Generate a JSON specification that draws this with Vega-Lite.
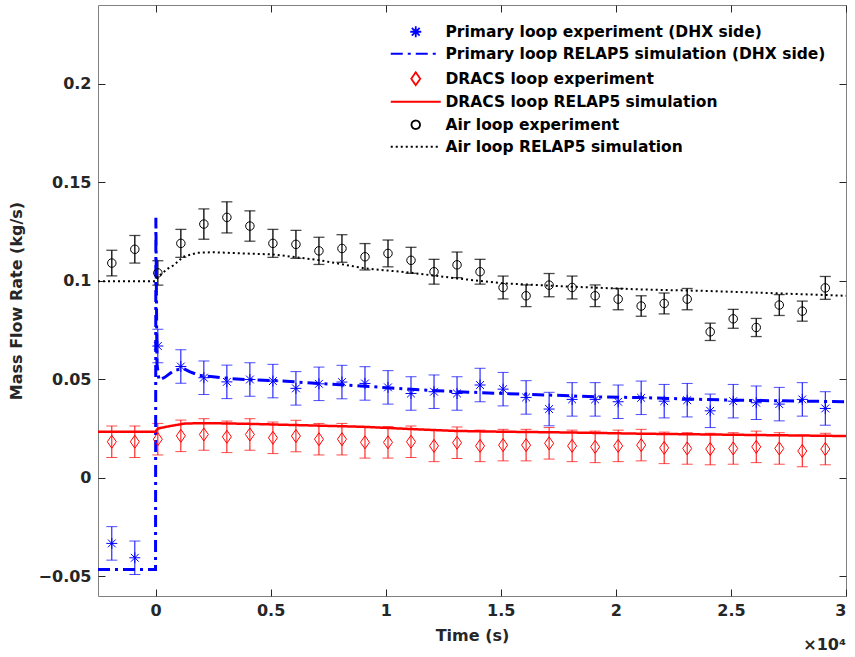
{
  "$schema": "https://vega.github.io/schema/vega-lite/v6.json",
  "width": 748,
  "height": 591,
  "autosize": "none",
  "padding": {"left": 98, "top": 5, "right": 9, "bottom": 61},
  "background": "white",
  "config": {
    "font": "DejaVu Sans",
    "view": {"stroke": "#808080", "strokeWidth": 1},
    "axis": {"domain": false, "grid": false, "tickColor": "#262626", "tickSize": 7, "tickWidth": 1, "offset": -7, "labelFont": "DejaVu Sans", "labelFontSize": 16, "labelFontWeight": "bold", "labelColor": "#262626", "titleFont": "DejaVu Sans", "titleFontSize": 16, "titleFontWeight": "bold", "titleColor": "#262626"}
  },
  "datasets": {
    "exp": [
      {"series": "Primary loop experiment (DHX side)", "t": -1900, "v": -0.0333, "lo": -0.0418, "hi": -0.0248},
      {"series": "Primary loop experiment (DHX side)", "t": -900, "v": -0.0406, "lo": -0.0491, "hi": -0.0321},
      {"series": "Primary loop experiment (DHX side)", "t": 100, "v": 0.0669, "lo": 0.0584, "hi": 0.0754},
      {"series": "Primary loop experiment (DHX side)", "t": 1100, "v": 0.0565, "lo": 0.048, "hi": 0.065},
      {"series": "Primary loop experiment (DHX side)", "t": 2100, "v": 0.0508, "lo": 0.0423, "hi": 0.0593},
      {"series": "Primary loop experiment (DHX side)", "t": 3100, "v": 0.0487, "lo": 0.0402, "hi": 0.0572},
      {"series": "Primary loop experiment (DHX side)", "t": 4100, "v": 0.0499, "lo": 0.0414, "hi": 0.0584},
      {"series": "Primary loop experiment (DHX side)", "t": 5100, "v": 0.0491, "lo": 0.0406, "hi": 0.0576},
      {"series": "Primary loop experiment (DHX side)", "t": 6100, "v": 0.0454, "lo": 0.0369, "hi": 0.0539},
      {"series": "Primary loop experiment (DHX side)", "t": 7100, "v": 0.0477, "lo": 0.0392, "hi": 0.0562},
      {"series": "Primary loop experiment (DHX side)", "t": 8100, "v": 0.0486, "lo": 0.0401, "hi": 0.0571},
      {"series": "Primary loop experiment (DHX side)", "t": 9100, "v": 0.0479, "lo": 0.0394, "hi": 0.0564},
      {"series": "Primary loop experiment (DHX side)", "t": 10100, "v": 0.0459, "lo": 0.0374, "hi": 0.0544},
      {"series": "Primary loop experiment (DHX side)", "t": 11100, "v": 0.0428, "lo": 0.0343, "hi": 0.0513},
      {"series": "Primary loop experiment (DHX side)", "t": 12100, "v": 0.0437, "lo": 0.0352, "hi": 0.0522},
      {"series": "Primary loop experiment (DHX side)", "t": 13100, "v": 0.0428, "lo": 0.0343, "hi": 0.0513},
      {"series": "Primary loop experiment (DHX side)", "t": 14100, "v": 0.0471, "lo": 0.0386, "hi": 0.0556},
      {"series": "Primary loop experiment (DHX side)", "t": 15100, "v": 0.045, "lo": 0.0365, "hi": 0.0535},
      {"series": "Primary loop experiment (DHX side)", "t": 16100, "v": 0.0408, "lo": 0.0323, "hi": 0.0493},
      {"series": "Primary loop experiment (DHX side)", "t": 17100, "v": 0.0349, "lo": 0.0264, "hi": 0.0434},
      {"series": "Primary loop experiment (DHX side)", "t": 18100, "v": 0.0398, "lo": 0.0313, "hi": 0.0483},
      {"series": "Primary loop experiment (DHX side)", "t": 19100, "v": 0.0398, "lo": 0.0313, "hi": 0.0483},
      {"series": "Primary loop experiment (DHX side)", "t": 20100, "v": 0.0386, "lo": 0.0301, "hi": 0.0471},
      {"series": "Primary loop experiment (DHX side)", "t": 21100, "v": 0.0406, "lo": 0.0321, "hi": 0.0491},
      {"series": "Primary loop experiment (DHX side)", "t": 22100, "v": 0.0389, "lo": 0.0304, "hi": 0.0474},
      {"series": "Primary loop experiment (DHX side)", "t": 23100, "v": 0.0394, "lo": 0.0309, "hi": 0.0479},
      {"series": "Primary loop experiment (DHX side)", "t": 24100, "v": 0.034, "lo": 0.0255, "hi": 0.0425},
      {"series": "Primary loop experiment (DHX side)", "t": 25100, "v": 0.0389, "lo": 0.0304, "hi": 0.0474},
      {"series": "Primary loop experiment (DHX side)", "t": 26100, "v": 0.0381, "lo": 0.0296, "hi": 0.0466},
      {"series": "Primary loop experiment (DHX side)", "t": 27100, "v": 0.0374, "lo": 0.0289, "hi": 0.0459},
      {"series": "Primary loop experiment (DHX side)", "t": 28100, "v": 0.0398, "lo": 0.0313, "hi": 0.0483},
      {"series": "Primary loop experiment (DHX side)", "t": 29100, "v": 0.0352, "lo": 0.0267, "hi": 0.0437},
      {"series": "DRACS loop experiment", "t": -1900, "v": 0.0183, "lo": 0.0103, "hi": 0.0263},
      {"series": "DRACS loop experiment", "t": -900, "v": 0.0183, "lo": 0.0103, "hi": 0.0263},
      {"series": "DRACS loop experiment", "t": 100, "v": 0.0196, "lo": 0.0116, "hi": 0.0276},
      {"series": "DRACS loop experiment", "t": 1100, "v": 0.0213, "lo": 0.0133, "hi": 0.0293},
      {"series": "DRACS loop experiment", "t": 2100, "v": 0.022, "lo": 0.014, "hi": 0.03},
      {"series": "DRACS loop experiment", "t": 3100, "v": 0.0208, "lo": 0.0128, "hi": 0.0288},
      {"series": "DRACS loop experiment", "t": 4100, "v": 0.022, "lo": 0.014, "hi": 0.03},
      {"series": "DRACS loop experiment", "t": 5100, "v": 0.0203, "lo": 0.0123, "hi": 0.0283},
      {"series": "DRACS loop experiment", "t": 6100, "v": 0.0212, "lo": 0.0132, "hi": 0.0292},
      {"series": "DRACS loop experiment", "t": 7100, "v": 0.0196, "lo": 0.0116, "hi": 0.0276},
      {"series": "DRACS loop experiment", "t": 8100, "v": 0.0196, "lo": 0.0116, "hi": 0.0276},
      {"series": "DRACS loop experiment", "t": 9100, "v": 0.018, "lo": 0.01, "hi": 0.026},
      {"series": "DRACS loop experiment", "t": 10100, "v": 0.018, "lo": 0.01, "hi": 0.026},
      {"series": "DRACS loop experiment", "t": 11100, "v": 0.0183, "lo": 0.0103, "hi": 0.0263},
      {"series": "DRACS loop experiment", "t": 12100, "v": 0.0162, "lo": 0.0082, "hi": 0.0242},
      {"series": "DRACS loop experiment", "t": 13100, "v": 0.0178, "lo": 0.0098, "hi": 0.0258},
      {"series": "DRACS loop experiment", "t": 14100, "v": 0.0162, "lo": 0.0082, "hi": 0.0242},
      {"series": "DRACS loop experiment", "t": 15100, "v": 0.0166, "lo": 0.0086, "hi": 0.0246},
      {"series": "DRACS loop experiment", "t": 16100, "v": 0.0166, "lo": 0.0086, "hi": 0.0246},
      {"series": "DRACS loop experiment", "t": 17100, "v": 0.0175, "lo": 0.0095, "hi": 0.0255},
      {"series": "DRACS loop experiment", "t": 18100, "v": 0.0162, "lo": 0.0082, "hi": 0.0242},
      {"series": "DRACS loop experiment", "t": 19100, "v": 0.0157, "lo": 0.0077, "hi": 0.0237},
      {"series": "DRACS loop experiment", "t": 20100, "v": 0.0162, "lo": 0.0082, "hi": 0.0242},
      {"series": "DRACS loop experiment", "t": 21100, "v": 0.0166, "lo": 0.0086, "hi": 0.0246},
      {"series": "DRACS loop experiment", "t": 22100, "v": 0.0152, "lo": 0.0072, "hi": 0.0232},
      {"series": "DRACS loop experiment", "t": 23100, "v": 0.0149, "lo": 0.0069, "hi": 0.0229},
      {"series": "DRACS loop experiment", "t": 24100, "v": 0.0146, "lo": 0.0066, "hi": 0.0226},
      {"series": "DRACS loop experiment", "t": 25100, "v": 0.0149, "lo": 0.0069, "hi": 0.0229},
      {"series": "DRACS loop experiment", "t": 26100, "v": 0.0157, "lo": 0.0077, "hi": 0.0237},
      {"series": "DRACS loop experiment", "t": 27100, "v": 0.0149, "lo": 0.0069, "hi": 0.0229},
      {"series": "DRACS loop experiment", "t": 28100, "v": 0.0136, "lo": 0.0056, "hi": 0.0216},
      {"series": "DRACS loop experiment", "t": 29100, "v": 0.0146, "lo": 0.0066, "hi": 0.0226},
      {"series": "Air loop experiment", "t": -1900, "v": 0.109, "lo": 0.1025, "hi": 0.1155},
      {"series": "Air loop experiment", "t": -900, "v": 0.116, "lo": 0.109, "hi": 0.123},
      {"series": "Air loop experiment", "t": 100, "v": 0.104, "lo": 0.0978, "hi": 0.1102},
      {"series": "Air loop experiment", "t": 1100, "v": 0.119, "lo": 0.1119, "hi": 0.1261},
      {"series": "Air loop experiment", "t": 2100, "v": 0.1288, "lo": 0.1211, "hi": 0.1365},
      {"series": "Air loop experiment", "t": 3100, "v": 0.1322, "lo": 0.1243, "hi": 0.1401},
      {"series": "Air loop experiment", "t": 4100, "v": 0.1278, "lo": 0.1201, "hi": 0.1355},
      {"series": "Air loop experiment", "t": 5100, "v": 0.119, "lo": 0.1119, "hi": 0.1261},
      {"series": "Air loop experiment", "t": 6100, "v": 0.1185, "lo": 0.1114, "hi": 0.1256},
      {"series": "Air loop experiment", "t": 7100, "v": 0.1152, "lo": 0.1083, "hi": 0.1221},
      {"series": "Air loop experiment", "t": 8100, "v": 0.1164, "lo": 0.1094, "hi": 0.1234},
      {"series": "Air loop experiment", "t": 9100, "v": 0.1122, "lo": 0.1055, "hi": 0.1189},
      {"series": "Air loop experiment", "t": 10100, "v": 0.1139, "lo": 0.1071, "hi": 0.1207},
      {"series": "Air loop experiment", "t": 11100, "v": 0.1104, "lo": 0.1038, "hi": 0.117},
      {"series": "Air loop experiment", "t": 12100, "v": 0.1046, "lo": 0.0983, "hi": 0.1109},
      {"series": "Air loop experiment", "t": 13100, "v": 0.1081, "lo": 0.1016, "hi": 0.1146},
      {"series": "Air loop experiment", "t": 14100, "v": 0.1046, "lo": 0.0983, "hi": 0.1109},
      {"series": "Air loop experiment", "t": 15100, "v": 0.0966, "lo": 0.0908, "hi": 0.1024},
      {"series": "Air loop experiment", "t": 16100, "v": 0.0924, "lo": 0.0869, "hi": 0.0979},
      {"series": "Air loop experiment", "t": 17100, "v": 0.0978, "lo": 0.0919, "hi": 0.1037},
      {"series": "Air loop experiment", "t": 18100, "v": 0.0966, "lo": 0.0908, "hi": 0.1024},
      {"series": "Air loop experiment", "t": 19100, "v": 0.0924, "lo": 0.0869, "hi": 0.0979},
      {"series": "Air loop experiment", "t": 20100, "v": 0.0907, "lo": 0.0853, "hi": 0.0961},
      {"series": "Air loop experiment", "t": 21100, "v": 0.0872, "lo": 0.082, "hi": 0.0924},
      {"series": "Air loop experiment", "t": 22100, "v": 0.0885, "lo": 0.0832, "hi": 0.0938},
      {"series": "Air loop experiment", "t": 23100, "v": 0.0907, "lo": 0.0853, "hi": 0.0961},
      {"series": "Air loop experiment", "t": 24100, "v": 0.0741, "lo": 0.0697, "hi": 0.0785},
      {"series": "Air loop experiment", "t": 25100, "v": 0.0807, "lo": 0.0759, "hi": 0.0855},
      {"series": "Air loop experiment", "t": 26100, "v": 0.0763, "lo": 0.0717, "hi": 0.0809},
      {"series": "Air loop experiment", "t": 27100, "v": 0.0877, "lo": 0.0824, "hi": 0.093},
      {"series": "Air loop experiment", "t": 28100, "v": 0.0846, "lo": 0.0795, "hi": 0.0897},
      {"series": "Air loop experiment", "t": 29100, "v": 0.0964, "lo": 0.0906, "hi": 0.1022}
    ],
    "sim": [
      {"series": "Primary loop RELAP5 simulation (DHX side)", "t": -2500, "v": -0.0465},
      {"series": "Primary loop RELAP5 simulation (DHX side)", "t": 0, "v": -0.0465},
      {"series": "Primary loop RELAP5 simulation (DHX side)", "t": 15, "v": 0.132},
      {"series": "Primary loop RELAP5 simulation (DHX side)", "t": 60, "v": 0.058},
      {"series": "Primary loop RELAP5 simulation (DHX side)", "t": 150, "v": 0.0496},
      {"series": "Primary loop RELAP5 simulation (DHX side)", "t": 400, "v": 0.051},
      {"series": "Primary loop RELAP5 simulation (DHX side)", "t": 800, "v": 0.0545},
      {"series": "Primary loop RELAP5 simulation (DHX side)", "t": 1200, "v": 0.0555},
      {"series": "Primary loop RELAP5 simulation (DHX side)", "t": 1500, "v": 0.0538},
      {"series": "Primary loop RELAP5 simulation (DHX side)", "t": 1900, "v": 0.052},
      {"series": "Primary loop RELAP5 simulation (DHX side)", "t": 2500, "v": 0.0513},
      {"series": "Primary loop RELAP5 simulation (DHX side)", "t": 3100, "v": 0.0505},
      {"series": "Primary loop RELAP5 simulation (DHX side)", "t": 4000, "v": 0.0498},
      {"series": "Primary loop RELAP5 simulation (DHX side)", "t": 5100, "v": 0.0494},
      {"series": "Primary loop RELAP5 simulation (DHX side)", "t": 7100, "v": 0.0479},
      {"series": "Primary loop RELAP5 simulation (DHX side)", "t": 9100, "v": 0.0465},
      {"series": "Primary loop RELAP5 simulation (DHX side)", "t": 11100, "v": 0.0449},
      {"series": "Primary loop RELAP5 simulation (DHX side)", "t": 13100, "v": 0.0437},
      {"series": "Primary loop RELAP5 simulation (DHX side)", "t": 15100, "v": 0.0428},
      {"series": "Primary loop RELAP5 simulation (DHX side)", "t": 17100, "v": 0.042},
      {"series": "Primary loop RELAP5 simulation (DHX side)", "t": 19100, "v": 0.0411},
      {"series": "Primary loop RELAP5 simulation (DHX side)", "t": 21100, "v": 0.0407},
      {"series": "Primary loop RELAP5 simulation (DHX side)", "t": 23100, "v": 0.04},
      {"series": "Primary loop RELAP5 simulation (DHX side)", "t": 25100, "v": 0.0394},
      {"series": "Primary loop RELAP5 simulation (DHX side)", "t": 27100, "v": 0.0391},
      {"series": "Primary loop RELAP5 simulation (DHX side)", "t": 30000, "v": 0.0386},
      {"series": "DRACS loop RELAP5 simulation", "t": -2500, "v": 0.0234},
      {"series": "DRACS loop RELAP5 simulation", "t": 0, "v": 0.0234},
      {"series": "DRACS loop RELAP5 simulation", "t": 100, "v": 0.025},
      {"series": "DRACS loop RELAP5 simulation", "t": 600, "v": 0.0262},
      {"series": "DRACS loop RELAP5 simulation", "t": 1300, "v": 0.0276},
      {"series": "DRACS loop RELAP5 simulation", "t": 2500, "v": 0.0277},
      {"series": "DRACS loop RELAP5 simulation", "t": 4000, "v": 0.0274},
      {"series": "DRACS loop RELAP5 simulation", "t": 6000, "v": 0.0268},
      {"series": "DRACS loop RELAP5 simulation", "t": 9000, "v": 0.0259},
      {"series": "DRACS loop RELAP5 simulation", "t": 11000, "v": 0.0248},
      {"series": "DRACS loop RELAP5 simulation", "t": 13000, "v": 0.0238},
      {"series": "DRACS loop RELAP5 simulation", "t": 15000, "v": 0.0234},
      {"series": "DRACS loop RELAP5 simulation", "t": 18000, "v": 0.023},
      {"series": "DRACS loop RELAP5 simulation", "t": 21000, "v": 0.0224},
      {"series": "DRACS loop RELAP5 simulation", "t": 24000, "v": 0.022},
      {"series": "DRACS loop RELAP5 simulation", "t": 27000, "v": 0.0216},
      {"series": "DRACS loop RELAP5 simulation", "t": 30000, "v": 0.0212},
      {"series": "Air loop RELAP5 simulation", "t": -2500, "v": 0.0998},
      {"series": "Air loop RELAP5 simulation", "t": 0, "v": 0.0998},
      {"series": "Air loop RELAP5 simulation", "t": 130, "v": 0.1023},
      {"series": "Air loop RELAP5 simulation", "t": 550, "v": 0.1063},
      {"series": "Air loop RELAP5 simulation", "t": 800, "v": 0.108},
      {"series": "Air loop RELAP5 simulation", "t": 1200, "v": 0.1122},
      {"series": "Air loop RELAP5 simulation", "t": 1800, "v": 0.1142},
      {"series": "Air loop RELAP5 simulation", "t": 2500, "v": 0.1145},
      {"series": "Air loop RELAP5 simulation", "t": 4000, "v": 0.1138},
      {"series": "Air loop RELAP5 simulation", "t": 5100, "v": 0.1134},
      {"series": "Air loop RELAP5 simulation", "t": 7100, "v": 0.1105},
      {"series": "Air loop RELAP5 simulation", "t": 9100, "v": 0.1063},
      {"series": "Air loop RELAP5 simulation", "t": 11100, "v": 0.1041},
      {"series": "Air loop RELAP5 simulation", "t": 13100, "v": 0.1012},
      {"series": "Air loop RELAP5 simulation", "t": 15100, "v": 0.0987},
      {"series": "Air loop RELAP5 simulation", "t": 18100, "v": 0.097},
      {"series": "Air loop RELAP5 simulation", "t": 21100, "v": 0.0956},
      {"series": "Air loop RELAP5 simulation", "t": 24100, "v": 0.0948},
      {"series": "Air loop RELAP5 simulation", "t": 27100, "v": 0.0936},
      {"series": "Air loop RELAP5 simulation", "t": 30000, "v": 0.0924}
    ],
    "note": [
      {"t": 30000, "v": -0.06, "label": "×10⁴"}
    ]
  },
  "resolve": {"axis": {"x": "independent", "y": "independent"}},
  "layer": [
    {
      "data": {"name": "exp"},
      "transform": [{"filter": "datum.series == 'Primary loop experiment (DHX side)'"}],
      "mark": {"type": "errorbar", "color": "#0000ff", "thickness": 1, "ticks": {"size": 11, "thickness": 1, "color": "#0000ff"}},
      "encoding": {
        "x": {"field": "t", "type": "quantitative", "scale": {"domain": [-2500, 30000], "nice": false, "zero": false}, "axis": {"orient": "bottom", "values": [0, 5000, 10000, 15000, 20000, 25000, 30000], "labelExpr": "'' + datum.value / 10000", "labelPadding": 6, "title": "Time (s)", "titlePadding": 9}},
        "y": {"field": "lo", "type": "quantitative", "scale": {"domain": [-0.06, 0.24], "nice": false, "zero": false}, "axis": {"orient": "left", "values": [-0.05, 0, 0.05, 0.1, 0.15, 0.2], "format": ".2~f", "labelPadding": 7, "title": "Mass Flow Rate (kg/s)", "titlePadding": 14}},
        "y2": {"field": "hi"}
      }
    },
    {
      "data": {"name": "exp"},
      "transform": [{"filter": "datum.series == 'DRACS loop experiment'"}],
      "mark": {"type": "errorbar", "color": "#ff0000", "thickness": 1, "ticks": {"size": 11, "thickness": 1, "color": "#ff0000"}},
      "encoding": {
        "x": {"field": "t", "type": "quantitative", "axis": null},
        "y": {"field": "lo", "type": "quantitative", "axis": null},
        "y2": {"field": "hi"}
      }
    },
    {
      "data": {"name": "exp"},
      "transform": [{"filter": "datum.series == 'Air loop experiment'"}],
      "mark": {"type": "errorbar", "color": "#000000", "thickness": 1.3, "ticks": {"size": 11, "thickness": 1.3, "color": "#000000"}},
      "encoding": {
        "x": {"field": "t", "type": "quantitative", "axis": null},
        "y": {"field": "lo", "type": "quantitative", "axis": null},
        "y2": {"field": "hi"}
      }
    },
    {
      "data": {"name": "sim"},
      "transform": [{"filter": "datum.series == 'Primary loop RELAP5 simulation (DHX side)'"}],
      "mark": {"type": "line", "clip": true, "strokeWidth": 3},
      "encoding": {
        "x": {"field": "t", "type": "quantitative", "axis": null},
        "y": {"field": "v", "type": "quantitative", "axis": null},
        "color": {"field": "series", "type": "nominal", "scale": {"domain": ["Primary loop experiment (DHX side)", "Primary loop RELAP5 simulation (DHX side)", "DRACS loop experiment", "DRACS loop RELAP5 simulation", "Air loop experiment", "Air loop RELAP5 simulation"], "range": ["#0000ff", "#0000ff", "#ff0000", "#ff0000", "#000000", "#000000"]}, "legend": {"orient": "none", "legendX": 310, "legendY": 19, "title": null, "padding": 0, "symbolSize": 100, "symbolStrokeWidth": 1.8, "labelOffset": 22, "rowPadding": 5, "labelFont": "DejaVu Sans", "labelFontSize": 15.5, "labelFontWeight": "bold", "labelColor": "#000000", "labelLimit": 420, "symbolFillColor": "transparent"}},
        "strokeDash": {"field": "series", "type": "nominal", "scale": {"domain": ["Primary loop experiment (DHX side)", "Primary loop RELAP5 simulation (DHX side)", "DRACS loop experiment", "DRACS loop RELAP5 simulation", "Air loop experiment", "Air loop RELAP5 simulation"], "range": [[1, 0], [12, 5, 3, 5], [1, 0], [1, 0], [1, 0], [2, 3]]}}
      }
    },
    {
      "data": {"name": "sim"},
      "transform": [{"filter": "datum.series == 'DRACS loop RELAP5 simulation'"}],
      "mark": {"type": "line", "clip": true, "strokeWidth": 2.5},
      "encoding": {
        "x": {"field": "t", "type": "quantitative", "axis": null},
        "y": {"field": "v", "type": "quantitative", "axis": null},
        "color": {"field": "series", "type": "nominal"},
        "strokeDash": {"field": "series", "type": "nominal"}
      }
    },
    {
      "data": {"name": "sim"},
      "transform": [{"filter": "datum.series == 'Air loop RELAP5 simulation'"}],
      "mark": {"type": "line", "clip": true, "strokeWidth": 2},
      "encoding": {
        "x": {"field": "t", "type": "quantitative", "axis": null},
        "y": {"field": "v", "type": "quantitative", "axis": null},
        "color": {"field": "series", "type": "nominal"},
        "strokeDash": {"field": "series", "type": "nominal"}
      }
    },
    {
      "data": {"name": "exp"},
      "mark": {"type": "point", "filled": false, "size": 100, "opacity": 1, "strokeWidth": 1},
      "encoding": {
        "x": {"field": "t", "type": "quantitative", "axis": {"orient": "top", "values": [0, 5000, 10000, 15000, 20000, 25000, 30000], "labels": false, "title": null}},
        "y": {"field": "v", "type": "quantitative", "axis": {"orient": "right", "values": [-0.05, 0, 0.05, 0.1, 0.15, 0.2], "labels": false, "title": null}},
        "color": {"field": "series", "type": "nominal"},
        "shape": {"field": "series", "type": "nominal", "scale": {"domain": ["Primary loop experiment (DHX side)", "Primary loop RELAP5 simulation (DHX side)", "DRACS loop experiment", "DRACS loop RELAP5 simulation", "Air loop experiment", "Air loop RELAP5 simulation"], "range": ["M0,-1.1L0,1.1M-1.1,0L1.1,0M-0.78,-0.78L0.78,0.78M-0.78,0.78L0.78,-0.78", "M-5,0L5,0", "M0,-1.3L0.9,0L0,1.3L-0.9,0Z", "M-5,0L5,0", "M0.85,0A0.85,0.85,0,1,1,-0.85,0A0.85,0.85,0,1,1,0.85,0Z", "M-5,0L5,0"]}}
      }
    },
    {
      "data": {"name": "note"},
      "mark": {"type": "text", "align": "right", "baseline": "top", "dy": 41, "fontSize": 16, "fontWeight": "bold", "font": "DejaVu Sans", "color": "#262626"},
      "encoding": {
        "x": {"field": "t", "type": "quantitative", "axis": null},
        "y": {"field": "v", "type": "quantitative", "axis": null},
        "text": {"field": "label"}
      }
    }
  ]
}
